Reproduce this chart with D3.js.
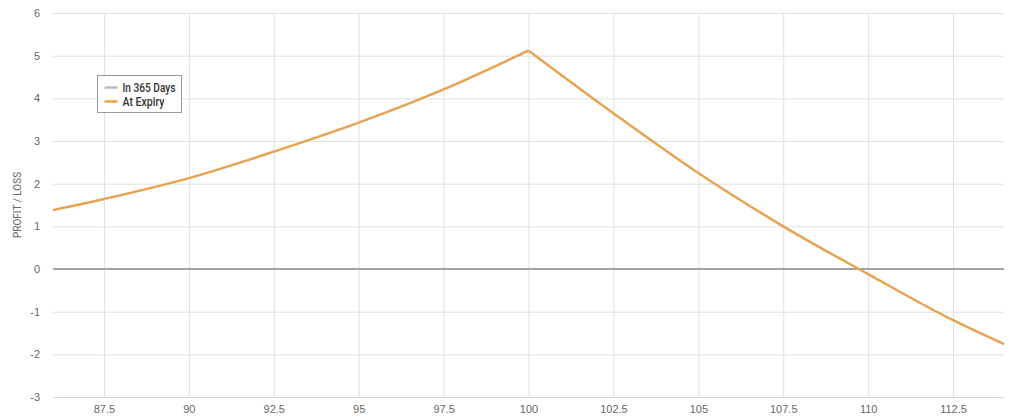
<!DOCTYPE html>
<html>
<head>
<meta charset="utf-8">
<script src="https://cdn.jsdelivr.net/npm/d3@7"></script>
<style>
  html, body { margin: 0; padding: 0; background: #fff; }
  svg { display: block; font-family: Roboto, "Liberation Sans", sans-serif; }
</style>
</head>
<body>
<svg id="chart" width="1024" height="418"></svg>
<script>
// ---- data ----
const xTicks = [87.5, 90, 92.5, 95, 97.5, 100, 102.5, 105, 107.5, 110, 112.5];
const yTicks = [-3, -2, -1, 0, 1, 2, 3, 4, 5, 6];
const seriesNames = ["In 365 Days", "At Expiry"];
const expiryX = [86, 87.5, 90, 92.5, 95, 97.5, 100, 102.5, 105, 107.5, 110, 112.5, 114];
const expiryY = [1.38, 1.64, 2.13, 2.75, 3.43, 4.21, 5.12, 3.65, 2.25, 1.0, -0.12, -1.2, -1.76];
const in365X = [86, 114];
const in365Y = [0, 0];
const yTitle = "PROFIT / LOSS";

// ---- layout ----
const svg = d3.select("#chart");
const m = { left: 53, right: 1004, top: 13, bottom: 397 };
const x = d3.scaleLinear().domain([86, 114]).range([m.left, m.right]);
const y = d3.scaleLinear().domain([-3, 6]).range([m.bottom, m.top]);

// horizontal grid
svg.append("g")
  .attr("transform", `translate(${m.left},0)`)
  .call(d3.axisLeft(y).tickValues(yTicks).tickSize(-(m.right - m.left)).tickFormat(""))
  .call(g => g.select(".domain").remove())
  .call(g => g.selectAll("line").attr("stroke", "#e0e0e0"));

// vertical grid
svg.append("g")
  .attr("transform", `translate(0,${m.bottom})`)
  .call(d3.axisBottom(x).tickValues(xTicks).tickSize(-(m.bottom - m.top)).tickFormat(""))
  .call(g => g.select(".domain").remove())
  .call(g => g.selectAll("line").attr("stroke", "#e0e0e0"));

// x axis line + labels
const xa = svg.append("g")
  .attr("transform", `translate(0,${m.bottom})`)
  .call(d3.axisBottom(x).tickValues(xTicks).tickSize(0).tickPadding(8)
        .tickFormat(d => String(d)));
xa.select(".domain").attr("stroke", "#ccd6eb").attr("d", `M${m.left},0.5H${m.right}`);
xa.selectAll("text").attr("fill", "#666").attr("font-size", 11);

// y labels
const ya = svg.append("g")
  .attr("transform", `translate(${m.left},0)`)
  .call(d3.axisLeft(y).tickValues(yTicks).tickSize(0).tickPadding(13).tickFormat(d => String(d)));
ya.select(".domain").remove();
ya.selectAll("text").attr("fill", "#666").attr("font-size", 11);

// y title
svg.append("text")
  .attr("transform", `translate(21,${(m.top + m.bottom) / 2}) rotate(-90)`)
  .attr("text-anchor", "middle")
  .attr("fill", "#666")
  .attr("font-size", 10)
  .text(yTitle);

// series
const line = d3.line().x(d => x(d[0])).y(d => y(d[1]));
svg.append("path")
  .datum(in365X.map((v, i) => [v, in365Y[i]]))
  .attr("fill", "none").attr("stroke", "#a3a3a3").attr("stroke-width", 2)
  .attr("d", line);

const curve = d3.line().x(d => x(d[0])).y(d => y(d[1])).curve(d3.curveMonotoneX);
const left = expiryX.map((v, i) => [v, expiryY[i]]).filter(d => d[0] <= 100);
const right = expiryX.map((v, i) => [v, expiryY[i]]).filter(d => d[0] >= 100);
svg.append("path").datum(left)
  .attr("fill", "none").attr("stroke", "#e8a352").attr("stroke-width", 2.5)
  .attr("stroke-linejoin", "round").attr("d", curve);
svg.append("path").datum(right)
  .attr("fill", "none").attr("stroke", "#e8a352").attr("stroke-width", 2.5)
  .attr("stroke-linejoin", "round").attr("d", curve);

// legend
const lg = svg.append("g").attr("transform", "translate(97.5,75.5)");
lg.append("rect").attr("width", 84).attr("height", 37)
  .attr("fill", "#fff").attr("stroke", "#999").attr("stroke-width", 1);
const colors = ["#b9bcc4", "#e8a352"];
const widths = [53, 42];
seriesNames.forEach((name, i) => {
  const yy = 12 + i * 14;
  lg.append("line").attr("x1", 7).attr("x2", 20).attr("y1", yy).attr("y2", yy)
    .attr("stroke", colors[i]).attr("stroke-width", 2.5);
  lg.append("text").attr("x", 25).attr("y", yy + 4)
    .attr("fill", "#333").attr("font-size", 12).attr("font-weight", 500)
    .attr("textLength", widths[i]).attr("lengthAdjust", "spacingAndGlyphs")
    .text(name);
});
</script>
</body>
</html>
